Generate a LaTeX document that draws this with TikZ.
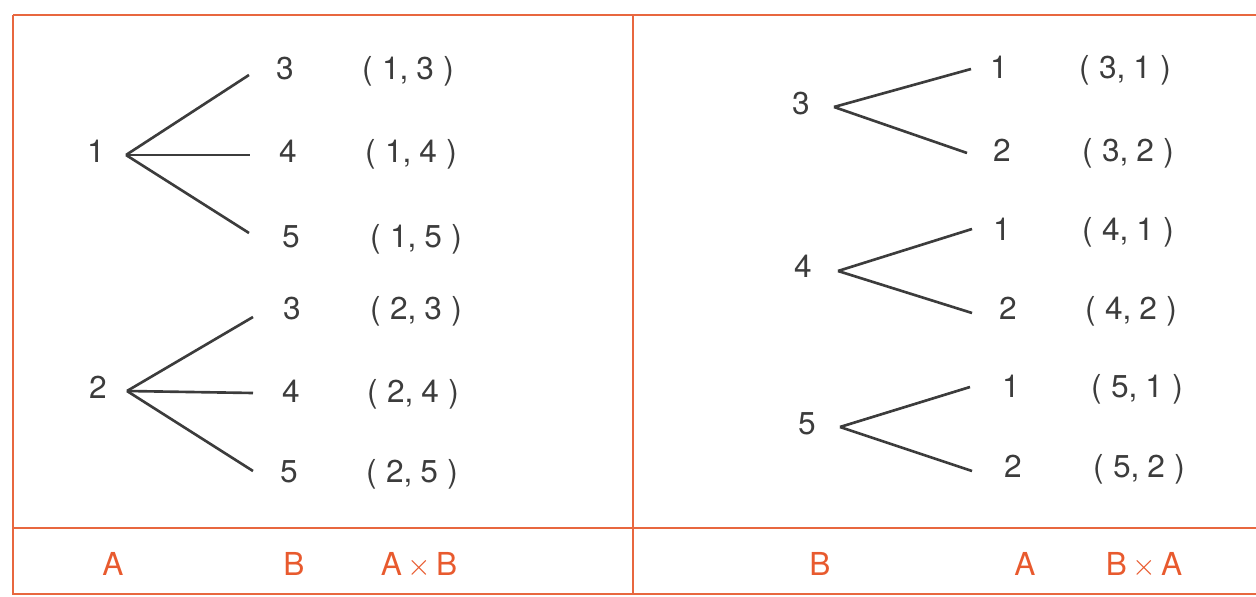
\documentclass[tikz,border=0pt]{standalone}
\usepackage{fontspec}
\setmainfont{TeX Gyre Heros}

\definecolor{rule}{HTML}{E8673F}
\definecolor{ink}{HTML}{3C3C3C}
\definecolor{head}{HTML}{E85A2E}

% ordered pair with the wide spacing of the print
\newcommand{\pr}[2]{(\hspace{.3em}#1,\hspace{.25em}#2\hspace{.3em})}

\begin{document}
\begin{tikzpicture}[x=0.02cm, y=-0.02cm,
    every node/.style={font=\fontsize{18}{21}\selectfont, text=ink,
        inner sep=0pt, text height=0.9em, text depth=0pt},
    lbl/.style={text=head},
    branch/.style={draw=ink, line width=1.5pt},
    frame/.style={draw=rule, line width=1.3pt}]

    \useasboundingbox (0,0) rectangle (1256,597);

    % Table frame
    \draw[frame] (13,15) -- (1256,15);
    \draw[frame] (13,15) -- (13,594) -- (1256,594);
    \draw[frame] (13,528) -- (1256,528);
    \draw[frame] (633,15) -- (633,594);

    % A x B : root 1
    \node (r1) at (96,155) {1};
    \node (c13) at (285,72) {3};
    \node (c14) at (288,155) {4};
    \node (c15) at (291,240) {5};
    \node (p13) at (408,72) {\pr{1}{3}};
    \node (p14) at (411,155) {\pr{1}{4}};
    \node (p15) at (416,240) {\pr{1}{5}};
    \coordinate (v1) at ([shift={(30,0)}]r1.center);
    \draw[branch] (v1) -- ([shift={(-36,3)}]c13.center);
    \draw[branch] (v1) -- ([shift={(-38,0)}]c14.center);
    \draw[branch] (v1) -- ([shift={(-42,-7)}]c15.center);

    % A x B : root 2
    \node (r2) at (98,391) {2};
    \node (c23) at (292,312) {3};
    \node (c24) at (291,395) {4};
    \node (c25) at (289,475) {5};
    \node (p23) at (416,312) {\pr{2}{3}};
    \node (p24) at (413,395) {\pr{2}{4}};
    \node (p25) at (412,475) {\pr{2}{5}};
    \coordinate (v2) at ([shift={(29,0)}]r2.center);
    \draw[branch] (v2) -- ([shift={(-39,5)}]c23.center);
    \draw[branch] (v2) -- ([shift={(-38,-2)}]c24.center);
    \draw[branch] (v2) -- ([shift={(-36,-4)}]c25.center);

    % B x A : root 3
    \node (r3) at (801,107) {3};
    \node (c31) at (999,71) {1};
    \node (c32) at (1002,154) {2};
    \node (p31) at (1125,71) {\pr{3}{1}};
    \node (p32) at (1128,154) {\pr{3}{2}};
    \coordinate (v3) at ([shift={(33,0)}]r3.center);
    \draw[branch] (v3) -- ([shift={(-28,-2)}]c31.center);
    \draw[branch] (v3) -- ([shift={(-35,-1)}]c32.center);

    % B x A : root 4
    \node (r4) at (803,270) {4};
    \node (c41) at (1002,233) {1};
    \node (c42) at (1008,312) {2};
    \node (p41) at (1128,233) {\pr{4}{1}};
    \node (p42) at (1131,312) {\pr{4}{2}};
    \coordinate (v4) at ([shift={(35,1)}]r4.center);
    \draw[branch] (v4) -- ([shift={(-30,-4)}]c41.center);
    \draw[branch] (v4) -- ([shift={(-36,1)}]c42.center);

    % B x A : root 5
    \node (r5) at (807,427) {5};
    \node (c51) at (1011,390) {1};
    \node (c52) at (1013,470) {2};
    \node (p51) at (1137,390) {\pr{5}{1}};
    \node (p52) at (1139,470) {\pr{5}{2}};
    \coordinate (v5) at ([shift={(33,0)}]r5.center);
    \draw[branch] (v5) -- ([shift={(-41,-3)}]c51.center);
    \draw[branch] (v5) -- ([shift={(-41,1)}]c52.center);

    % Column heads
    \node[lbl] (hA1) at (113,568) {A};
    \node[lbl] (hB1) at (294,568) {B};
    \node[lbl] (hAB) at (419,568) {A\,$\times$\,B};
    \node[lbl] (hB2) at (820,568) {B};
    \node[lbl] (hA2) at (1025,568) {A};
    \node[lbl] (hBA) at (1144,568) {B\,$\times$\,A};

\end{tikzpicture}
\end{document}
